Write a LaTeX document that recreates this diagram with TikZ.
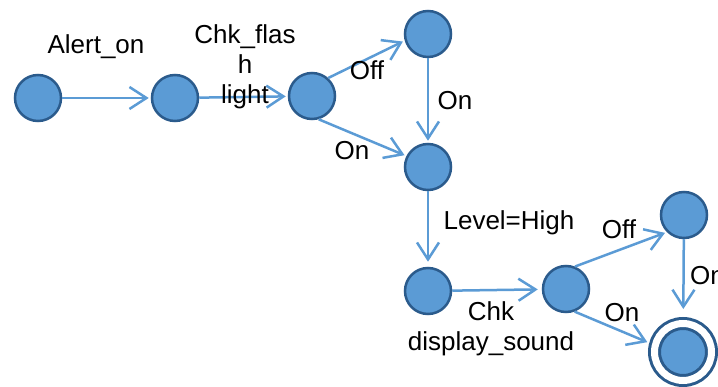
\documentclass[tikz,border=0pt]{standalone}
\usepackage{fontspec}
\setmainfont{Liberation Sans}
\usetikzlibrary{arrows.meta}
\definecolor{fillblue}{HTML}{5B9BD5}
\definecolor{borderblue}{HTML}{2B5B8C}
\definecolor{arrowblue}{HTML}{5B9BD5}
\tikzset{
  statenode/.style={circle, fill=fillblue, draw=borderblue, line width=2.5pt, minimum size=46pt, inner sep=0pt},
  finalnode/.style={circle, fill=fillblue, draw=borderblue, line width=3pt, double=white, double distance=7pt, minimum size=57pt, inner sep=0pt, outer sep=6.5pt},
  conn/.style={draw=arrowblue, line width=2.5pt, -{Straight Barb[length=17pt,width=22pt,line width=2.5pt]}, shorten >=2pt},
  lbl/.style={font=\fontsize{26}{30}\selectfont, inner sep=0pt, text=black},
}
\begin{document}
\begin{tikzpicture}[x=1pt,y=-1pt]
\useasboundingbox (0,0) rectangle (718,387);
\clip (0,0) rectangle (718,387);
\node[statenode] (n1) at (38,98) {};
\node[statenode] (n2) at (175,98) {};
\node[statenode] (n3) at (312,96) {};
\node[statenode] (n4) at (428,34) {};
\node[statenode] (n5) at (428,167) {};
\node[statenode] (n6) at (428,291) {};
\node[statenode] (n7) at (566,289) {};
\node[statenode] (n8) at (684,215) {};
\node[finalnode] (n9) at (683,352) {};

\draw[conn] (n1) -- (n2);
\draw[conn] (n2) -- (n3);
\draw[conn] (n3.48) -- (n4.196);
\draw[conn] (n3.-74) -- (n5.153);
\draw[conn] (n4) -- (n5);
\draw[conn, shorten >=5pt] (n5) -- (n6);
\draw[conn, shorten >=4pt] (n6) -- (n7);
\draw[conn] (n7.68) -- (n8.225);
\draw[conn] (n7.-69) -- (n9.165);
\draw[conn, shorten >=8pt] (n8) -- (n9);

\node[lbl, anchor=base] (l1) at (96,54) {Alert\_on};
\node[lbl, anchor=north, align=center] (l2) at (245,24) {Chk\_flas\\h\\light};
\node[lbl, anchor=base] (l3) at (367,80) {Off};
\node[lbl, anchor=base] (l4) at (352,160) {On};
\node[lbl, anchor=base] (l5) at (455,110) {On};
\node[lbl, anchor=base] (l6) at (509,230) {Level=High};
\node[lbl, anchor=north, align=center] (l7) at (491,301) {Chk\\display\_sound};
\node[lbl, anchor=base] (l8) at (619,239) {Off};
\node[lbl, anchor=base] (l9) at (622,322) {On};
\node[lbl, anchor=base west] (l10) at (690,285) {On};
\end{tikzpicture}
\end{document}
